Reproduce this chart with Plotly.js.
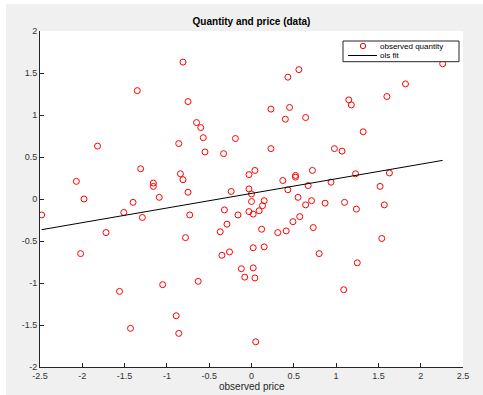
<!DOCTYPE html>
<html>
<head>
<meta charset="utf-8">
<script src="https://cdn.plot.ly/plotly-3.0.1.min.js"></script>
<style>
  html, body { margin: 0; padding: 0; background: #ffffff; }
  #plot { position: absolute; left: 6px; top: 4px; width: 477px; height: 391px; }
</style>
</head>
<body>
<div id="plot"></div>
<script>
// observed data (price, quantity)
const priceX = [
  -2.48, -2.07, -2.02, -1.98, -1.82, -1.72, -1.56, -1.51, -1.43, -1.40,
  -1.35, -1.31, -1.29, -1.16, -1.16, -1.09, -1.05, -0.89, -0.86, -0.86,
  -0.84, -0.81, -0.81, -0.78, -0.75, -0.75, -0.73, -0.65, -0.63, -0.60,
  -0.57, -0.55, -0.37, -0.35, -0.33, -0.32, -0.29, -0.26, -0.24, -0.19,
  -0.16, -0.12, -0.08, -0.03, -0.03, -0.03, 0.00, 0.00, 0.02, 0.02,
  0.02, 0.04, 0.04, 0.05, 0.09, 0.12, 0.13, 0.15, 0.15, 0.23,
  0.23, 0.31, 0.37, 0.40, 0.41, 0.43, 0.43, 0.45, 0.49, 0.52,
  0.52, 0.55, 0.56, 0.57, 0.64, 0.64, 0.67, 0.71, 0.72, 0.73,
  0.80, 0.87, 0.94, 0.98, 1.07, 1.09, 1.10, 1.15, 1.18, 1.23,
  1.24, 1.25, 1.32, 1.52, 1.54, 1.57, 1.60, 1.63, 1.82, 2.26
];
const quantityY = [
  -0.19, 0.21, -0.65, 0.00, 0.63, -0.40, -1.10, -0.16, -1.54, -0.04,
  1.29, 0.36, -0.22, 0.19, 0.15, 0.02, -1.02, -1.39, 0.66, -1.60,
  0.30, 0.23, 1.63, -0.46, 1.16, 0.08, -0.19, 0.91, -0.98, 0.85,
  0.73, 0.56, -0.39, -0.67, 0.54, -0.13, -0.30, -0.63, 0.09, 0.72,
  -0.19, -0.83, -0.93, 0.29, 0.12, -0.15, 0.06, -0.03, -0.18, -0.58,
  -0.82, 0.34, -0.94, -1.70, -0.14, -0.36, -0.08, -0.02, -0.57, 1.07,
  0.60, -0.40, 0.22, 0.95, -0.38, 1.45, 0.11, 1.09, -0.27, 0.28,
  0.26, 0.02, 1.54, -0.21, 0.97, -0.07, 0.16, -0.02, 0.34, -0.34,
  -0.65, -0.05, 0.20, 0.60, 0.57, -1.08, -0.04, 1.18, 1.12, 0.30,
  -0.12, -0.76, 0.80, 0.15, -0.47, -0.07, 1.22, 0.31, 1.37, 1.61
];
// ols fit line endpoints
const fitX = [-2.48, 2.26];
const fitY = [-0.365, 0.46];

const xTickVals = [-2.5, -2, -1.5, -1, -0.5, 0, 0.5, 1, 1.5, 2, 2.5];
const xTickText = ["-2.5", "-2", "-1.5", "-1", "-0.5", "0", "0.5", "1", "1.5", "2", "2.5"];
const yTickVals = [-2, -1.5, -1, -0.5, 0, 0.5, 1, 1.5, 2];
const yTickText = ["-2", "-1.5", "-1", "-0.5", "0", "0.5", "1", "1.5", "2"];

const legendLabels = ["observed quantity", "ols fit"];
const xTitle = "observed price";

const FONT = "Liberation Sans, Arial, Helvetica, sans-serif";

const traces = [
  {
    x: priceX, y: quantityY, type: "scatter", mode: "markers",
    name: legendLabels[0],
    marker: { symbol: "circle-open", size: 6, color: "#ff0000", line: { width: 1, color: "#ff0000" } },
    hoverinfo: "x+y"
  },
  {
    x: fitX, y: fitY, type: "scatter", mode: "lines",
    name: legendLabels[1],
    line: { color: "#000000", width: 1 }
  }
];

// manual compact legend (paper coords of plot area)
const W = 423, H = 336;
function px(x) { return (x - 40) / W; }
function py(y) { return (367 - y) / H; }

const layout = {
  width: 477, height: 391,
  margin: { l: 34, r: 20, t: 27, b: 28, pad: 0 },
  paper_bgcolor: "#f0f0f0",
  plot_bgcolor: "#ffffff",
  showlegend: false,
  font: { family: FONT, size: 9, color: "#333333" },
  title: {
    text: "<b>Quantity and price (data)</b>",
    font: { family: FONT, size: 10, color: "#000000" },
    x: 0.5, xref: "paper", xanchor: "center",
    y: 1 - (17 / 391), yref: "container", yanchor: "middle"
  },
  xaxis: {
    range: [-2.5, 2.5], tickmode: "array", tickvals: xTickVals, ticktext: xTickText,
    ticks: "inside", ticklen: 4, tickcolor: "#262626", tickwidth: 1,
    showline: true, linecolor: "#262626", linewidth: 1, mirror: false,
    showgrid: false, zeroline: false, automargin: false,
    tickfont: { family: FONT, size: 9, color: "#333333" }
  },
  yaxis: {
    range: [-2, 2], tickmode: "array", tickvals: yTickVals, ticktext: yTickText,
    ticks: "inside", ticklen: 4, tickcolor: "#262626", tickwidth: 1,
    showline: true, linecolor: "#262626", linewidth: 1, mirror: false,
    showgrid: false, zeroline: false, automargin: false,
    tickfont: { family: FONT, size: 9, color: "#333333" }
  },
  shapes: [
    { type: "rect", xref: "paper", yref: "paper", x0: px(343), x1: px(459), y0: py(61.7), y1: py(41),
      fillcolor: "#ffffff", line: { color: "#262626", width: 1 } },
    { type: "circle", xref: "paper", yref: "paper", x0: px(360.3), x1: px(365.7), y0: py(48.7), y1: py(43.3),
      line: { color: "#ff0000", width: 1 } },
    { type: "line", xref: "paper", yref: "paper", x0: px(348), x1: px(377), y0: py(55.5), y1: py(55.5),
      line: { color: "#000000", width: 1 } }
  ],
  annotations: [
    { text: legendLabels[0], xref: "paper", yref: "paper", x: px(379), y: py(46.3), xanchor: "left", yanchor: "middle",
      showarrow: false, borderpad: 0, font: { family: FONT, size: 8, color: "#000000" } },
    { text: legendLabels[1], xref: "paper", yref: "paper", x: px(379), y: py(55.7), xanchor: "left", yanchor: "middle",
      showarrow: false, borderpad: 0, font: { family: FONT, size: 8, color: "#000000" } },
    { text: xTitle, xref: "paper", yref: "paper", x: 0.5, y: py(386.5), xanchor: "center", yanchor: "middle",
      showarrow: false, borderpad: 0, font: { family: FONT, size: 10, color: "#262626" } }
  ]
};

Plotly.newPlot("plot", traces, layout, { displayModeBar: false, staticPlot: true });
</script>
</body>
</html>
